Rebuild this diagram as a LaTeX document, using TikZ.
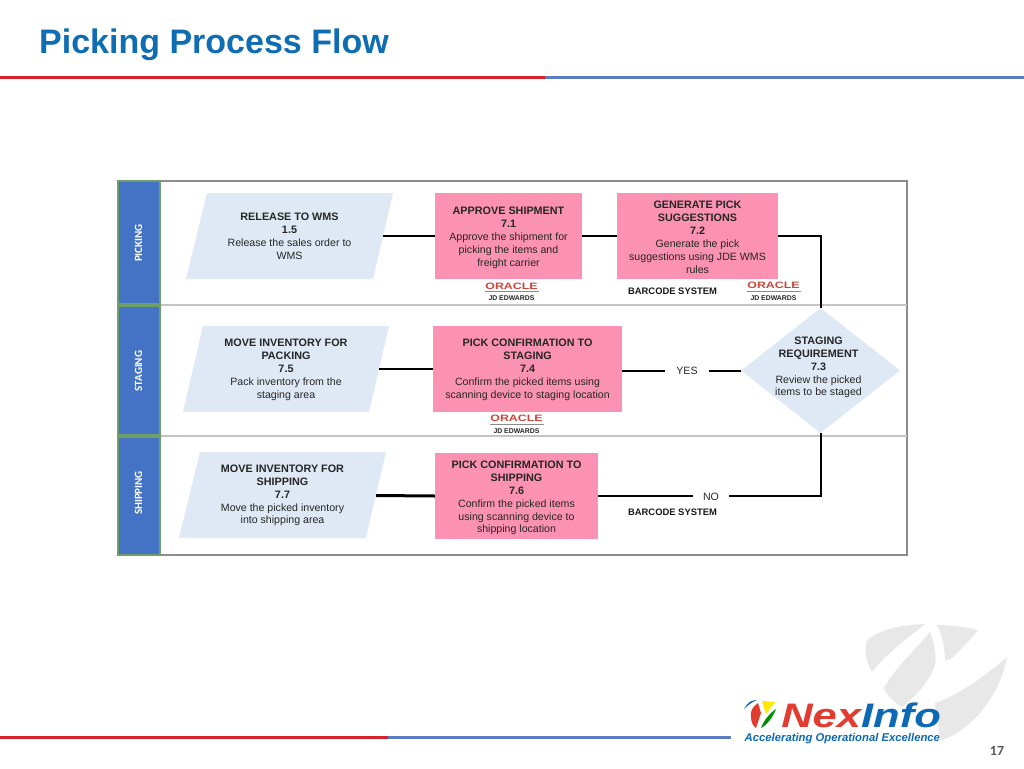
\documentclass[tikz,border=0pt]{standalone}
\usepackage{fontspec}
\setmainfont{Liberation Sans}
\newfontfamily\calib{Carlito}
\usetikzlibrary{shapes.geometric,calc}
\definecolor{bandblue}{HTML}{4472C4}
\definecolor{bandgreen}{HTML}{6F9F68}
\definecolor{paleblue}{HTML}{DEE9F5}
\definecolor{pinkbox}{HTML}{FB92B3}
\definecolor{titleblue}{HTML}{0F6DB4}
\definecolor{linered}{HTML}{D9202C}
\definecolor{lineblue}{HTML}{5B7EC2}
\definecolor{framegray}{HTML}{8C8C8C}
\definecolor{rulegray}{HTML}{C4C4C4}
\definecolor{wmgray}{HTML}{E8E8E8}
\definecolor{orared}{HTML}{C9473B}
\definecolor{nexred}{HTML}{E23B30}
\definecolor{nexblue}{HTML}{0E69B4}
\tikzset{
  body/.style={font=\fontsize{10.6}{12.9}\selectfont,text=black!85,align=center,inner sep=0pt},
  pinkbox/.style={rectangle,fill=pinkbox,minimum height=86pt,body},
  para/.style={rectangle,minimum width=166pt,minimum height=86pt,body},
  flow/.style={black,line width=2pt},
  bandlab/.style={rotate=90,text=white,font=\calib\bfseries\fontsize{11}{12}\selectfont,inner sep=0pt},
  swim/.style={fill=bandblue,draw=bandgreen,line width=2pt},
  barcode/.style={font=\bfseries\fontsize{9.4}{10}\selectfont,inner sep=0pt,text=black!90},
  orac/.style={text=orared,font=\bfseries\fontsize{9.3}{10}\selectfont,xscale=1.33,transform shape,inner sep=0pt},
  jde/.style={font=\bfseries\fontsize{6.9}{8}\selectfont,inner sep=0pt,text=black!85},
  yn/.style={font=\fontsize{10.6}{12}\selectfont,inner xsep=11pt,inner ysep=1pt,text=black!85}
}
\newcommand{\hd}[1]{{\fontsize{10.8}{12.9}\selectfont\bfseries #1}}
\newcommand{\up}[1]{\rule{0pt}{#1pt}}
\begin{document}
\begin{tikzpicture}[x=1pt,y=-1pt]
\useasboundingbox (0,0) rectangle (1024,768);
\fill[white] (0,0) rectangle (1024,768);
% title and header rule
\node[anchor=base west,inner sep=0pt,text=titleblue,font=\bfseries\fontsize{34}{38}\selectfont] (title) at (39,53) {Picking Process Flow};
\coordinate (hl0) at (0,77.5); \coordinate (hl1) at (545,77.5); \coordinate (hl2) at (1024,77.5);
\draw[linered,line width=3pt] (hl0) -- (hl1);
\draw[lineblue,line width=3pt] (hl1) -- (hl2);
% watermark
\fill[wmgray] (867,640) .. controls (885,627) and (905,625) .. (925,624) .. controls (905,640) and (885,655) .. (872,672) .. controls (866,662) and (864,650) .. (867,640) -- cycle;
\fill[wmgray] (930,632) .. controls (936,650) and (937,660) .. (934,668) .. controls (927,685) and (914,697) .. (902,707) .. controls (894,702) and (888,697) .. (884,688) .. controls (895,668) and (915,650) .. (930,632) -- cycle;
\fill[wmgray] (937,625) .. controls (952,625) and (966,627) .. (978,630) .. controls (970,640) and (960,650) .. (953,657) .. controls (950,660) and (947,660) .. (945,660) .. controls (945,648) and (942,635) .. (937,625) -- cycle;
\fill[wmgray] (1007,657) .. controls (1002,685) and (985,712) .. (965,727) .. controls (957,734) and (950,738) .. (940,740) -- (935,703) .. controls (960,695) and (990,672) .. (1007,657) -- cycle;
% frame
\draw[framegray,line width=2pt] (160,181) rectangle (907,555);
\draw[rulegray,line width=2pt] (160,304.5) -- (907,304.5);
\draw[rulegray,line width=2pt] (160,436) -- (907,436);
% swimlane bands
\draw[swim] (118,181) rectangle (160,304);
\draw[swim] (118,306) rectangle (160,435);
\draw[swim] (118,437) rectangle (160,555);
\node[bandlab] (lp) at (138.5,243) {PICKING};
\node[bandlab] (ls) at (138.5,371) {STAGING};
\node[bandlab] (lh) at (138.5,493) {SHIPPING};
% parallelogram fills
\fill[paleblue] (207,193) -- (393,193) -- (373,279) -- (186,279) -- cycle;
\fill[paleblue] (203,326) -- (389,326) -- (369,412) -- (183,412) -- cycle;
\fill[paleblue] (200,452) -- (386,452) -- (366,538) -- (179,538) -- cycle;
% process nodes
\node[para,minimum width=187pt] (rel) at (289.5,236) {\hd{RELEASE TO WMS}\\\hd{1.5}\\Release the sales order to\\WMS};
\node[para,minimum width=186pt] (mvp) at (286,369) {\hd{\up{9.6}MOVE INVENTORY FOR}\\\hd{PACKING}\\\hd{7.5}\\Pack inventory from the\\staging area};
\node[para,minimum width=187pt] (mvs) at (282.5,495.5) {\hd{MOVE INVENTORY FOR}\\\hd{SHIPPING}\\\hd{7.7}\\Move the picked inventory\\into shipping area};
\node[pinkbox,minimum width=147pt] (app) at (508.5,236) {\hd{\up{10.6}APPROVE SHIPMENT}\\\hd{7.1}\\Approve the shipment for\\picking the items and\\freight carrier};
\node[pinkbox,minimum width=161pt] (gen) at (697.5,236) {\hd{\up{10}GENERATE PICK}\\\hd{SUGGESTIONS}\\\hd{7.2}\\Generate the pick\\suggestions using JDE WMS\\rules};
\node[pinkbox,minimum width=189pt] (pst) at (527.5,369) {\hd{\up{9.6}PICK CONFIRMATION TO}\\\hd{STAGING}\\\hd{7.4}\\Confirm the picked items using\\scanning device to staging location};
\node[pinkbox,minimum width=163pt] (psh) at (516.5,496) {\hd{\up{11.6}PICK CONFIRMATION TO}\\\hd{SHIPPING}\\\hd{7.6}\\Confirm the picked items\\using scanning device to\\shipping location};
\node[diamond,fill=paleblue,minimum width=159pt,minimum height=125pt,inner sep=0pt] (dia) at (820.5,370.5) {};
\node[body] (diat) at (818.5,367.5) {\hd{STAGING}\\\hd{REQUIREMENT}\\\hd{7.3}\\Review the picked\\items to be staged};
% labels on connectors
\node[yn] (yes) at (687,371) {YES};
\node[yn,inner xsep=10pt] (no) at (711,497) {NO};
\coordinate (cgen) at (820.5,236);
\coordinate (cno) at (820.5,495.5);
% connectors
\draw[flow] (rel.east) -- (app.west);
\draw[flow] (app.east) -- (app.east -| gen.west);
\draw[flow] (gen.east |- cgen) -- (cgen) -- (dia.north);
\draw[flow] (mvp.east) -- (pst.west);
\draw[flow] (pst.east |- yes.west) -- (yes.west);
\draw[flow] (yes.east) -- (dia.west |- yes.east);
\draw[flow] (dia.south) -- (cno) -- (no.east |- cno);
\draw[flow] (no.west |- cno) -- (psh.east |- cno);
\draw[black,line width=3pt] (mvs.east) -- (psh.west);
% barcode labels
\node[barcode] (bc1) at (672.5,291.5) {BARCODE SYSTEM};
\node[barcode] (bc2) at (672.5,512.5) {BARCODE SYSTEM};
% oracle logos
\node[orac] (o1) at (511.5,286) {ORACLE};
\node[orac] (o2) at (773.5,285.5) {ORACLE};
\node[orac] (o3) at (516.5,418.5) {ORACLE};
\draw[black!45,line width=0.5pt] ($(o1.center)+(-27,5.5)$) -- ($(o1.center)+(27,5.5)$);
\draw[black!45,line width=0.5pt] ($(o2.center)+(-27,5.5)$) -- ($(o2.center)+(27,5.5)$);
\draw[black!45,line width=0.5pt] ($(o3.center)+(-27,5.5)$) -- ($(o3.center)+(27,5.5)$);
\node[jde] (j1) at (511.5,298.5) {JD EDWARDS};
\node[jde] (j2) at (773.5,298.5) {JD EDWARDS};
\node[jde] (j3) at (516.5,431) {JD EDWARDS};
% footer rule
\coordinate (fl0) at (0,737); \coordinate (fl1) at (388,737); \coordinate (fl2) at (731,737);
\draw[linered,line width=3pt] (fl0) -- (fl1);
\draw[lineblue,line width=3pt] (fl1) -- (fl2);
% company mark
\fill[nexblue] (744,709) .. controls (747,703) and (751,700) .. (757,700) .. controls (752,702) and (748,705) .. (744,709) -- cycle;
\fill[nexred] (758,703) .. controls (752,707) and (750,712) .. (751,717) .. controls (751,722) and (753,726) .. (756,728) -- (761,713) -- cycle;
\fill[yellow!90!orange] (762,701) -- (775,702) -- (766,714) -- cycle;
\fill[green!55!black] (776,709) .. controls (770,713) and (764,720) .. (761,728) .. controls (767,725) and (773,717) .. (776,709) -- cycle;
\node[anchor=base west,inner sep=0pt,xscale=1.28,transform shape,font=\bfseries\itshape\fontsize{34}{34}\selectfont] (nex) at (781,727.5) {\textcolor{nexred}{Nex}\textcolor{nexblue}{Info}};
\node[anchor=base west,inner sep=0pt,text=nexblue,font=\bfseries\itshape\fontsize{11.3}{12}\selectfont] (tag) at (744.5,741) {Accelerating Operational Excellence};
% page number
\node[inner sep=0pt,text=black!65,font=\calib\bfseries\fontsize{14}{16}\selectfont] (pg) at (997,751) {17};
\end{tikzpicture}
\end{document}
